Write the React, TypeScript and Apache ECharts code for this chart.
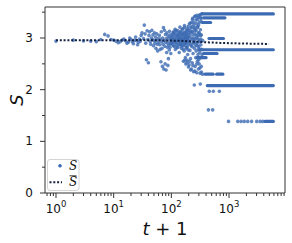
import React, { useEffect, useRef } from 'react';
import * as echarts from 'echarts';

// ---------- data ----------
const earlyT = [1, 2, 3, 4, 5, 6, 7, 8, 9, 10, 11, 12, 13, 14, 15];
const earlyS = [2.94, 2.96, 2.945, 2.94, 2.93, 2.97, 3.07, 3.04, 2.97, 2.96, 2.94, 2.91, 2.93, 2.96, 2.98];

const midT = [16, 17, 18, 19, 20, 21, 22, 23, 24, 25, 26, 27, 28, 29, 30, 31, 33, 34, 35, 36, 37, 38, 39, 40, 41, 42, 43, 44, 45, 46, 47, 48, 49, 50, 51, 52, 53, 54, 55, 56, 57, 58, 59, 60];
const midS = [2.95, 2.9, 2.92, 3.0, 2.97, 2.93, 2.89, 2.96, 3.02, 2.95, 2.87, 2.92, 2.98, 2.94, 3.05, 3.1, 2.99, 3.25, 3.08, 2.9, 2.58, 3.14, 2.97, 2.52, 3.05, 3.12, 2.93, 2.88, 3.0, 3.15, 2.97, 3.06, 2.85, 2.95, 3.1, 2.9, 3.02, 2.8, 2.96, 3.08, 2.88, 2.75, 2.99, 2.92];

const lateT = [62, 63, 64, 65, 66, 67, 68, 69, 70, 71, 72, 73, 74, 75, 76, 77, 78, 79, 80, 81, 82, 83, 84, 85, 86, 87, 88, 89, 90, 91, 92, 93, 94, 95, 96, 97, 98, 99, 100];
const lateS = [3.05, 2.87, 2.78, 2.98, 2.54, 3.12, 2.93, 2.8, 2.45, 3.0, 2.88, 3.2, 2.4, 2.95, 3.15, 2.84, 2.5, 3.07, 2.92, 2.38, 2.99, 2.72, 3.1, 2.82, 2.9, 2.47, 3.04, 2.6, 2.86, 3.0, 2.77, 3.13, 2.95, 2.82, 3.06, 2.9, 2.7, 3.0, 2.88];

const cloudT1 = [102, 105, 107, 110, 112, 115, 117, 120, 122, 125, 127, 130, 132, 135, 137, 140, 142, 145, 147, 150, 152, 155, 157, 160, 162, 165, 167, 170, 172, 175, 177, 180, 182, 185, 187, 190, 192, 195, 197, 200, 203, 205, 208, 210, 213, 215, 218, 220, 223];
const cloudS1 = [3.02, 2.93, 3.1, 2.85, 2.98, 3.05, 2.78, 2.95, 3.15, 2.9, 3.0, 2.82, 3.08, 2.95, 2.72, 3.03, 2.88, 3.12, 2.97, 2.8, 3.06, 2.92, 3.18, 2.85, 2.55, 3.0, 2.75, 3.1, 2.9, 2.62, 3.05, 2.95, 2.8, 3.15, 2.57, 2.98, 2.68, 3.22, 2.88, 3.02, 2.48, 3.27, 2.93, 2.76, 3.1, 2.6, 3.2, 2.85, 2.4];

const cloudT2 = [103, 108, 113, 118, 123, 128, 133, 138, 143, 148, 153, 158, 163, 168, 173, 178, 183, 188, 193, 198];
const cloudS2 = [2.97, 3.08, 2.91, 3.13, 2.86, 3.04, 2.99, 3.1, 2.93, 3.0, 2.87, 3.07, 2.96, 3.2, 3.01, 2.9, 3.09, 2.83, 3.0, 3.15];

const cloudT3 = [225, 228, 230, 233, 235, 238, 240, 243, 245, 248, 250, 252, 255, 258, 260, 263, 265, 268, 270, 273, 275, 278, 280, 283, 285, 288, 290, 293, 295, 298, 300, 303, 305, 308, 310, 313, 315, 318, 320, 323, 325, 328, 330, 333, 336, 340, 345, 350];
const cloudS3 = [3.3, 2.97, 2.52, 3.12, 3.38, 2.7, 2.9, 2.35, 3.25, 3.0, 2.09, 2.8, 3.42, 2.45, 3.15, 2.92, 2.62, 3.35, 2.75, 3.05, 2.33, 3.44, 2.85, 2.55, 3.2, 2.98, 2.68, 3.4, 2.4, 3.1, 2.8, 2.5, 3.3, 2.95, 2.72, 3.45, 2.32, 2.11, 3.05, 2.62, 2.87, 3.38, 2.45, 2.78, 3.47, 2.68, 2.3, 2.95];

const cloudT4 = [212, 226, 232, 246, 254, 262, 272, 284, 296, 306, 316, 326, 170, 178, 188, 198, 206, 216, 236, 256, 276, 297, 312, 332];
const cloudS4 = [3.29, 3.22, 3.36, 3.3, 3.2, 3.42, 3.28, 3.36, 3.25, 3.44, 3.4, 3.33, 2.57, 2.5, 2.52, 2.44, 2.55, 2.38, 2.47, 2.36, 2.5, 2.58, 2.42, 2.34];

const cloudT5 = [101, 104, 106, 109, 111, 114, 116, 119, 121, 124, 126, 129, 131, 134, 136, 139, 141, 144, 146, 149, 151, 154, 156, 159, 161, 164, 166, 169, 171, 174, 176, 179, 181, 184, 186, 189, 191, 194, 196, 199, 202, 207, 211, 217, 222, 227, 231, 237, 242, 247, 253, 257, 264, 269, 274, 279, 286, 291, 299, 304, 311, 319, 324, 331];
const cloudS5 = [2.9, 3.05, 2.96, 3.12, 2.84, 3.0, 3.17, 2.92, 3.08, 2.81, 3.03, 2.95, 3.14, 2.87, 3.06, 2.98, 3.21, 2.9, 3.11, 2.84, 3.0, 3.16, 2.93, 3.06, 2.78, 3.1, 2.97, 3.24, 2.86, 3.03, 2.91, 3.13, 2.99, 2.82, 3.07, 3.18, 2.93, 3.02, 2.77, 3.1, 2.95, 3.05, 3.15, 2.88, 3.0, 3.12, 2.83, 3.06, 2.92, 3.18, 2.97, 3.08, 2.86, 3.14, 3.0, 2.9, 3.22, 3.04, 2.84, 3.1, 2.93, 3.16, 2.98, 3.06];

// plateaus: S stays constant from bandStart to bandEnd
const bandLevel = [3.466, 3.39, 3.3, 2.99, 2.773, 2.7, 2.62, 2.3, 2.3, 2.079, 1.386];
const bandStart = [340, 360, 345, 450, 300, 360, 280, 383, 610, 420, 4200];
const bandEnd = [5860, 850, 480, 800, 5860, 620, 400, 530, 780, 5860, 5860];

const tailT = [455, 535, 680, 440, 520, 980, 1420, 1620, 1840, 2110, 2460, 3020, 3450, 3830];
const tailS = [1.97, 1.97, 1.97, 1.61, 1.61, 1.386, 1.386, 1.386, 1.386, 1.386, 1.386, 1.386, 1.386, 1.386];

const meanT = [1, 3, 10, 30, 60, 100, 150, 200, 300, 450, 700, 1000, 1500, 2500, 4900];
const meanS = [2.955, 2.955, 2.955, 2.96, 2.955, 2.95, 2.945, 2.935, 2.925, 2.915, 2.905, 2.9, 2.895, 2.89, 2.885];

const xMajorTicks = [1, 10, 100, 1000];
const xMinorTicks = [0.7, 0.8, 0.9, 2, 3, 4, 5, 6, 7, 8, 9, 20, 30, 40, 50, 60, 70, 80, 90, 200, 300, 400, 500, 600, 700, 800, 900, 2000, 3000, 4000, 5000, 6000, 7000, 8000, 9000];
const yMajorTicks = [0, 1, 2, 3];
const yMinorTicks = [0.5, 1.5, 2.5, 3.5];

const X_MIN = 0.645;
const X_MAX = 9340;
const Y_MIN = 0;
const Y_MAX = 3.6;

const BLUE = '#3d6bb3';
const MEAN = '#142040';
const AXIS = '#333333';
const TXT = '#111111';

const zip = (a: number[], b: number[]) => a.map((v, i) => [v, b[i]]);

export default function App() {
  const ref = useRef<HTMLDivElement>(null);
  useEffect(() => {
    const chart = echarts.init(ref.current!, null, { renderer: 'svg' });
    const points = [
      ...zip(earlyT, earlyS),
      ...zip(midT, midS),
      ...zip(lateT, lateS),
      ...zip(cloudT1, cloudS1),
      ...zip(cloudT2, cloudS2),
      ...zip(cloudT3, cloudS3),
      ...zip(cloudT4, cloudS4),
      ...zip(cloudT5, cloudS5),
      ...zip(tailT, tailS),
    ];
    const bandSeries = bandLevel.map((lv, i) => ({
      type: 'line',
      data: [[bandStart[i], lv], [bandEnd[i], lv]],
      symbol: 'none',
      lineStyle: { color: BLUE, width: 3.2, cap: 'round' },
      silent: true,
      z: 3,
    }));
    const xTickData = [
      ...xMajorTicks.map((t) => [t, 0, 5]),
      ...xMinorTicks.map((t) => [t, 0, 3]),
    ];
    const yTickData = [
      ...yMajorTicks.map((v) => [X_MIN, v, 5]),
      ...yMinorTicks.map((v) => [X_MIN, v, 3]),
    ];
    const option: any = {
      animation: false,
      backgroundColor: '#ffffff',
      grid: { left: 45, right: 7, top: 7, bottom: 50, show: true, borderColor: AXIS, borderWidth: 1, backgroundColor: 'transparent' },
      xAxis: {
        type: 'log',
        logBase: 10,
        min: X_MIN,
        max: X_MAX,
        axisLine: { show: false },
        axisTick: { show: false },
        splitLine: { show: false },
        axisLabel: {
          margin: 6,
          color: TXT,
          fontFamily: 'DejaVu Sans',
          formatter: (v: number) => {
            const e = Math.log10(v);
            const r = Math.round(e);
            return Math.abs(e - r) < 1e-6 && r >= 0 ? '{b|10}{s|' + r + '}' : '';
          },
          rich: {
            b: { fontSize: 12, lineHeight: 16, verticalAlign: 'bottom', color: TXT, fontFamily: 'DejaVu Sans' },
            s: { fontSize: 8.5, lineHeight: 10, verticalAlign: 'top', color: TXT, fontFamily: 'DejaVu Sans' },
          },
        },
        name: '{i|t} + 1',
        nameLocation: 'middle',
        nameGap: 18,
        nameTextStyle: {
          color: TXT,
          fontSize: 18,
          fontFamily: 'DejaVu Sans',
          rich: { i: { fontStyle: 'italic', fontSize: 18, fontFamily: 'DejaVu Sans', color: TXT } },
        },
      },
      yAxis: {
        type: 'value',
        min: Y_MIN,
        max: Y_MAX,
        interval: 1,
        axisLine: { show: false },
        axisTick: { show: false },
        splitLine: { show: false },
        axisLabel: {
          margin: 12,
          color: TXT,
          fontSize: 12,
          fontFamily: 'DejaVu Sans',
          formatter: (v: number) => (Math.abs(v - Math.round(v)) < 1e-9 ? String(Math.round(v)) : ''),
        },
      },
      series: [
        {
          type: 'scatter',
          data: points,
          symbol: 'circle',
          symbolSize: 3.6,
          itemStyle: { color: BLUE },
          silent: true,
          z: 3,
        },
        ...bandSeries,
        {
          type: 'line',
          data: zip(meanT, meanS),
          symbol: 'none',
          lineStyle: { color: MEAN, width: 2, type: [2, 1.8] },
          silent: true,
          z: 6,
        },
        {
          type: 'custom',
          data: xTickData,
          clip: false,
          silent: true,
          z: 8,
          renderItem: (_p: any, api: any) => {
            const p = api.coord([api.value(0), Y_MIN]);
            const len = api.value(2);
            return { type: 'line', shape: { x1: p[0], y1: p[1], x2: p[0], y2: p[1] + len }, style: { stroke: AXIS, lineWidth: 1 } };
          },
        },
        {
          type: 'custom',
          data: yTickData,
          clip: false,
          silent: true,
          z: 8,
          renderItem: (_p: any, api: any) => {
            const p = api.coord([api.value(0), api.value(1)]);
            const len = api.value(2);
            return { type: 'line', shape: { x1: p[0], y1: p[1], x2: p[0] - len, y2: p[1] }, style: { stroke: AXIS, lineWidth: 1 } };
          },
        },
      ],
      graphic: [
        { type: 'text', x: 16.5, y: 100, rotation: Math.PI / 2, style: { text: 'S', font: 'italic 18px "DejaVu Sans"', fill: TXT, textAlign: 'center', textVerticalAlign: 'middle', align: 'center', verticalAlign: 'middle' }, z: 50 },
        { type: 'rect', shape: { x: 47.5, y: 159.5, width: 31.5, height: 31, r: 2.5 }, style: { fill: 'rgba(255,255,255,0.85)', stroke: '#d4d4d4', lineWidth: 1 }, z: 100 },
        { type: 'circle', shape: { cx: 60, cy: 165.7, r: 1.8 }, style: { fill: BLUE }, z: 101 },
        { type: 'text', x: 69, y: 166, style: { text: 'S', font: 'italic 12px "DejaVu Serif"', fill: TXT, textVerticalAlign: 'middle', verticalAlign: 'middle' }, z: 101 },
        { type: 'line', shape: { x1: 49.5, y1: 182.3, x2: 62, y2: 182.3 }, style: { stroke: MEAN, lineWidth: 2, lineDash: [2, 1.8] }, z: 101 },
        { type: 'line', shape: { x1: 69.5, y1: 175.8, x2: 76.5, y2: 175.8 }, style: { stroke: TXT, lineWidth: 0.8 }, z: 101 },
        { type: 'text', x: 69, y: 182, style: { text: 'S', font: 'italic 12px "DejaVu Serif"', fill: TXT, textVerticalAlign: 'middle', verticalAlign: 'middle' }, z: 101 },
      ],
    };
    chart.setOption(option);
    return () => chart.dispose();
  }, []);
  return <div ref={ref} style={{ position: 'fixed', left: 0, top: 0, width: 292, height: 243 }} />;
}
